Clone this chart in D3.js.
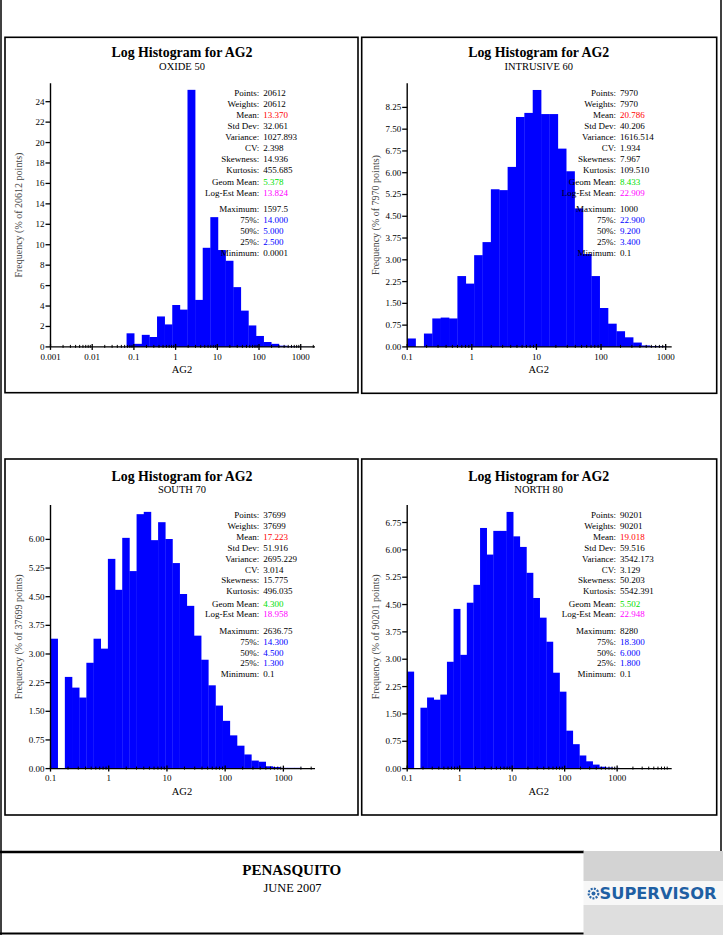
<!DOCTYPE html>
<html><head><meta charset="utf-8">
<script src="https://cdn.jsdelivr.net/npm/d3@7/dist/d3.min.js"></script>
<style>body{margin:0;background:#fff}svg{display:block}</style>
</head><body><svg id="c" width="723" height="935"></svg>
<script>
// ---------------- DATA ----------------
const chartTitle = "Log Histogram for AG2";
const panelSubtitles = ["OXIDE 50", "INTRUSIVE 60", "SOUTH 70", "NORTH 80"];
const pointCounts = ["20612", "7970", "37699", "90201"];
const xLabel = "AG2";

// log10 of first bin's left edge and log10 bin width, per panel
const binStartLog = [-1.176, -1, -1, -1];
const binWidthLog = [0.1826, 0.1295, 0.1232, 0.1262];

const freqOxide = [1.33, 0.30, 1.18, 0.97, 2.98, 2.20, 4.10, 3.65, 25.16, 4.60, 9.70, 12.70, 9.48, 8.43, 5.85, 3.55, 2.10, 1.07, 0.48, 0.30, 0.12, 0.06, 0.03, 0.01];
const freqIntrusive = [0.29, 0, 0.46, 0.98, 1.01, 0.98, 2.44, 2.18, 3.16, 3.61, 5.43, 5.40, 6.20, 7.92, 8.06, 8.85, 8.02, 8.02, 6.83, 6.05, 4.77, 3.20, 2.44, 1.34, 0.80, 0.54, 0.33, 0.15, 0.05, 0.03, 0.02];
const freqSouth = [3.40, 0, 2.40, 2.12, 1.86, 2.77, 3.40, 3.14, 5.49, 4.68, 6.04, 5.17, 6.66, 6.72, 5.98, 6.45, 6.01, 5.38, 4.57, 4.26, 3.48, 2.85, 2.18, 1.65, 1.25, 0.87, 0.60, 0.37, 0.21, 0.18, 0.06, 0.04, 0.02, 0.02, 0.02, 0.01];
const freqNorth = [2.66, 0, 1.67, 1.95, 1.89, 2.03, 2.93, 4.38, 3.12, 4.55, 5.04, 6.60, 5.87, 6.52, 6.52, 7.04, 6.37, 6.08, 5.37, 4.68, 4.14, 3.48, 2.63, 2.11, 1.04, 0.67, 0.36, 0.20, 0.11, 0.05, 0.03, 0.02, 0.01, 0.01, 0.01];

const xDomainMin = [0.001, 0.1, 0.1, 0.1];
const xDomainMax = [2200, 1240, 3490, 10960];
const xTickValues = [
  [0.001, 0.01, 0.1, 1, 10, 100, 1000],
  [0.1, 1, 10, 100, 1000],
  [0.1, 1, 10, 100, 1000],
  [0.1, 1, 10, 100, 1000]
];
const yDomainMax = [25.8, 9.08, 6.9, 7.23];
const yTickStep = [2, 0.75, 0.75, 0.75];
const yTickFormat = ["d", ".2f", ".2f", ".2f"];

const statLabels = ["Points:", "Weights:", "Mean:", "Std Dev:", "Variance:", "CV:", "Skewness:", "Kurtosis:", "Geom Mean:", "Log-Est Mean:", "Maximum:", "75%:", "50%:", "25%:", "Minimum:"];
const statsOxide = ["20612", "20612", "13.370", "32.061", "1027.893", "2.398", "14.936", "455.685", "5.378", "13.824", "1597.5", "14.000", "5.000", "2.500", "0.0001"];
const statsIntrusive = ["7970", "7970", "20.786", "40.206", "1616.514", "1.934", "7.967", "109.510", "8.433", "22.909", "1000", "22.900", "9.200", "3.400", "0.1"];
const statsSouth = ["37699", "37699", "17.223", "51.916", "2695.229", "3.014", "15.775", "496.035", "4.300", "18.958", "2636.75", "14.300", "4.500", "1.300", "0.1"];
const statsNorth = ["90201", "90201", "19.018", "59.516", "3542.173", "3.129", "50.203", "5542.391", "5.502", "22.948", "8280", "18.300", "6.000", "1.800", "0.1"];

const footerTitle = "PENASQUITO";
const footerDate = "JUNE 2007";
const logoText = "SUPERVISOR";

// ---------------- LAYOUT / STYLE ----------------
const freqs = [freqOxide, freqIntrusive, freqSouth, freqNorth];
const stats = [statsOxide, statsIntrusive, statsSouth, statsNorth];
const statColors = ["#000", "#000", "#ff0000", "#000", "#000", "#000", "#000", "#000", "#00e000", "#ff00ff", "#000", "#0000ff", "#0000ff", "#0000ff", "#000"];
const statOffsets = [59, 69.9, 80.8, 91.7, 102.6, 113.5, 124.4, 135.3, 147.6, 158.4, 174.7, 185.6, 196.5, 207.4, 218.3];
const panelBoxes = [
  {x: 5, y: 37.3, w: 353, h: 355.4},
  {x: 361.7, y: 37.3, w: 355, h: 356},
  {x: 5, y: 459, w: 353, h: 356},
  {x: 361.7, y: 459, w: 355, h: 356}
];
const SERIF = "'Liberation Serif','Times New Roman',serif";

const svg = d3.select("#c");

// page frame
const frame = svg.append("g").attr("stroke", "#000").attr("fill", "none");
frame.append("line").attr("x1", 1).attr("x2", 1).attr("y1", 0).attr("y2", 935).attr("stroke-width", 1.5);
frame.append("line").attr("x1", 721).attr("x2", 721).attr("y1", 0).attr("y2", 852).attr("stroke-width", 1.5);
frame.append("line").attr("x1", 0).attr("x2", 584).attr("y1", 852).attr("y2", 852).attr("stroke-width", 2.5);
frame.append("line").attr("x1", 0).attr("x2", 584).attr("y1", 933.5).attr("y2", 933.5).attr("stroke-width", 2);

panelBoxes.forEach((b, p) => {
  const g = svg.append("g");
  g.append("rect").attr("x", b.x).attr("y", b.y).attr("width", b.w).attr("height", b.h)
    .attr("fill", "#fff").attr("stroke", "#000").attr("stroke-width", 1.6);

  const left = b.x + 45.5, right = b.x + 310, top = b.y + 46, bottom = b.y + 309.6;
  const cx = (b.x + 177);

  const x = d3.scaleLog().domain([xDomainMin[p], xDomainMax[p]]).range([left, right]);
  const y = d3.scaleLinear().domain([0, yDomainMax[p]]).range([bottom, top]);

  // titles
  g.append("text").attr("x", cx).attr("y", b.y + (p < 2 ? 20 : 21.5)).attr("text-anchor", "middle")
    .attr("font-family", SERIF).attr("font-weight", "bold").attr("font-size", 14.5)
    .attr("textLength", 141).attr("lengthAdjust", "spacingAndGlyphs").text(chartTitle);
  g.append("text").attr("x", cx).attr("y", b.y + (p < 2 ? 32.7 : 33.5)).attr("text-anchor", "middle")
    .attr("font-family", SERIF).attr("font-size", 10.5).text(panelSubtitles[p]);

  // bars
  const bins = freqs[p].map((v, i) => ({
    x0: Math.max(Math.pow(10, binStartLog[p] + i * binWidthLog[p]), xDomainMin[p]),
    x1: Math.pow(10, binStartLog[p] + (i + 1) * binWidthLog[p]),
    v
  })).filter(d => d.v > 0);
  g.append("g").selectAll("rect").data(bins).join("rect")
    .attr("x", d => x(d.x0)).attr("width", d => Math.max(0, x(d.x1) - x(d.x0)) + 0.3)
    .attr("y", d => y(d.v)).attr("height", d => y(0) - y(d.v))
    .attr("fill", "#0000ff");

  // x axis
  const ax = g.append("g").attr("stroke", "#000");
  ax.append("line").attr("x1", left).attr("x2", right).attr("y1", bottom).attr("y2", bottom).attr("stroke-width", 1.4);
  const lo = Math.floor(Math.log10(xDomainMin[p])), hi = Math.ceil(Math.log10(xDomainMax[p]));
  const minor = [];
  for (let d = lo; d < hi; d++) for (let k = 2; k <= 9; k++) {
    const v = k * Math.pow(10, d);
    if (v > xDomainMin[p] && v < xDomainMax[p]) minor.push(v);
  }
  ax.selectAll(".mn").data(minor).join("line").attr("class", "mn")
    .attr("x1", d => x(d)).attr("x2", d => x(d)).attr("y1", bottom - 2).attr("y2", bottom + 1).attr("stroke-width", 1);
  ax.selectAll(".mj").data(xTickValues[p]).join("line").attr("class", "mj")
    .attr("x1", d => x(d)).attr("x2", d => x(d)).attr("y1", bottom - 3).attr("y2", bottom + 3).attr("stroke-width", 1.3);
  g.append("g").selectAll("text").data(xTickValues[p]).join("text")
    .attr("x", d => x(d)).attr("y", bottom + 12.6).attr("text-anchor", "middle")
    .attr("font-family", SERIF).attr("font-size", 9).text(d => String(d));
  g.append("text").attr("x", cx).attr("y", bottom + 26).attr("text-anchor", "middle")
    .attr("font-family", SERIF).attr("font-size", 10.5).text(xLabel);

  // y axis: ticks up to the tallest bar
  const yTicks = d3.range(0, d3.max(freqs[p]) + 1e-9, yTickStep[p]);
  const fmt = d3.format(yTickFormat[p]);
  const ay = g.append("g").attr("stroke", "#000");
  ay.append("line").attr("x1", left).attr("x2", left).attr("y1", top).attr("y2", bottom).attr("stroke-width", 1.4);
  ay.selectAll("line.t").data(yTicks).join("line").attr("class", "t")
    .attr("x1", left - 5).attr("x2", left).attr("y1", d => y(d)).attr("y2", d => y(d)).attr("stroke-width", 1.3);
  g.append("g").selectAll("text").data(yTicks).join("text")
    .attr("x", left - 6).attr("y", d => y(d) + 3).attr("text-anchor", "end")
    .attr("font-family", SERIF).attr("font-size", 9).text(d => fmt(d));
  g.append("text").attr("transform", `translate(${b.x + 17},${(top + bottom) / 2}) rotate(-90)`)
    .attr("text-anchor", "middle").attr("font-family", SERIF).attr("font-size", 10).attr("fill", "#444")
    .text(`Frequency (% of ${pointCounts[p]} points)`);

  // stats block
  const sx = b.x + 254.3;
  const st = g.append("g").attr("font-family", SERIF).attr("font-size", 9);
  statLabels.forEach((lab, i) => {
    st.append("text").attr("x", sx).attr("y", b.y + statOffsets[i]).attr("text-anchor", "end").attr("fill", "#000").text(lab);
    st.append("text").attr("x", sx + 4).attr("y", b.y + statOffsets[i]).attr("fill", statColors[i]).text(stats[p][i]);
  });
});

// footer
svg.append("text").attr("x", 291.7).attr("y", 875.3).attr("text-anchor", "middle")
  .attr("font-family", SERIF).attr("font-weight", "bold").attr("font-size", 15).text(footerTitle);
svg.append("text").attr("x", 292.5).attr("y", 892.3).attr("text-anchor", "middle")
  .attr("font-family", SERIF).attr("font-size", 11.5).attr("textLength", 58).attr("lengthAdjust", "spacingAndGlyphs").text(footerDate);

// logo
const logo = svg.append("g");
logo.append("rect").attr("x", 583.5).attr("y", 851).attr("width", 139.5).attr("height", 30).attr("fill", "#d3d3d3");
logo.append("rect").attr("x", 583.5).attr("y", 881).attr("width", 139.5).attr("height", 24).attr("fill", "#f7f7f7");
logo.append("rect").attr("x", 583.5).attr("y", 905).attr("width", 139.5).attr("height", 30).attr("fill", "#dedede");
logo.append("circle").attr("cx", 593.5).attr("cy", 893.5).attr("r", 4.8).attr("fill", "none").attr("stroke", "#2a66a8").attr("stroke-width", 2.2).attr("stroke-dasharray", "2 1.2");
logo.append("circle").attr("cx", 593.5).attr("cy", 893.5).attr("r", 2).attr("fill", "#2a66a8");
logo.append("text").attr("x", 599.5).attr("y", 899).attr("font-family", "'DejaVu Sans','Liberation Sans',sans-serif")
  .attr("font-weight", "bold").attr("font-size", 15).attr("fill", "#1f5fa3")
  .attr("textLength", 117).attr("lengthAdjust", "spacingAndGlyphs").text(logoText);
</script></body></html>
